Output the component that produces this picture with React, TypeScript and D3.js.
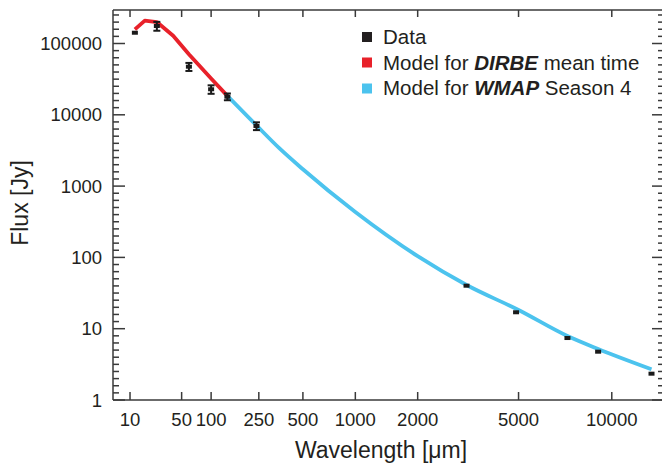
import React from "react";
import * as d3 from "d3";

const xTickValues = [10, 50, 100, 250, 500, 1000, 2000, 5000, 10000];
const yTickValues = [1, 10, 100, 1000, 10000, 100000];

const dataWavelength = [12, 25, 60, 100, 140, 240, 3200, 4900, 7300, 9100, 13000];
const dataFlux = [141600, 176000, 47300, 22800, 17950, 6970, 40.1, 17.0, 7.4, 4.76, 2.34];
const dataError = [0, 25000, 6100, 3100, 1950, 870, 0, 0, 0, 0, 0];

const dirbeWavelength = [12, 17, 25, 40, 60, 100, 140];
const dirbeFlux = [158000, 209000, 200000, 128600, 70800, 32200, 18400];

const wmapWavelength = [140, 240, 350, 500, 1000, 2000, 3200, 5000, 7300, 9100, 13000];
const wmapFlux = [18400, 7100, 3400, 1720, 433, 104, 41, 18.3, 7.9, 5.2, 2.7];

const legendLabels = ["Data", "Model for ", "Model for "];

const W = 662;
const H = 464;
const left = 113;
const right = 664;
const top = 10;
const bottom = 400;
const FONT = "'Liberation Sans', Arial, Helvetica, sans-serif";
const AXIS = "#3a3a3a";
const TEXT = "#231f20";
const RED = "#e8212a";
const BLUE = "#4cc3ee";

export default function App() {
  const x = d3.scalePow().exponent(0.25).domain([4.9, 14070]).range([left, right]);
  const y = d3
    .scaleLog()
    .domain([1, Math.pow(10, 390 / 71.3)])
    .range([bottom, top]);

  const line = d3
    .line<[number, number]>()
    .x((d) => x(d[0]))
    .y((d) => y(d[1]));
  const smoothLine = d3
    .line<[number, number]>()
    .x((d) => x(d[0]))
    .y((d) => y(d[1]))
    .curve(d3.curveMonotoneX);

  const dirbePts = dirbeWavelength.map((w, i) => [w, dirbeFlux[i]] as [number, number]);
  const wmapPts = wmapWavelength.map((w, i) => [w, wmapFlux[i]] as [number, number]);

  // minor y ticks: 10 evenly spaced subdivisions per decade
  const minorY: number[] = [];
  for (let d = 0; d < 6; d++) {
    const y0 = y(Math.pow(10, d));
    const y1 = y(Math.pow(10, d + 1));
    for (let k = 1; k < 10; k++) {
      const yy = y0 + ((y1 - y0) * k) / 10;
      if (yy >= top) minorY.push(yy);
    }
  }

  return (
    <svg
      width={W}
      height={H}
      style={{ position: "absolute", left: 0, top: 0, background: "#fff" }}
      fontFamily={FONT}
    >
      {/* frame */}
      <g stroke={AXIS} strokeWidth={1.5} fill="none">
        <line x1={left} x2={left} y1={top} y2={bottom} />
        <line x1={right} x2={right} y1={top} y2={bottom} />
        <line x1={left} x2={right} y1={top} y2={top} />
        <line x1={left} x2={right} y1={bottom} y2={bottom} />
        {xTickValues.map((t) => (
          <g key={"xt" + t}>
            <line x1={x(t)} x2={x(t)} y1={bottom} y2={bottom - 8} />
            <line x1={x(t)} x2={x(t)} y1={top} y2={top + 7} />
          </g>
        ))}
        {yTickValues.map((t) => (
          <g key={"yt" + t}>
            <line x1={left} x2={left + 12} y1={y(t)} y2={y(t)} />
            <line x1={right} x2={right - 12} y1={y(t)} y2={y(t)} />
          </g>
        ))}
        {minorY.map((yy, i) => (
          <g key={"ym" + i}>
            <line x1={left} x2={left + 6} y1={yy} y2={yy} />
            <line x1={right} x2={right - 6} y1={yy} y2={yy} />
          </g>
        ))}
      </g>

      {/* tick labels */}
      <g fontSize={18.5} fill={TEXT}>
        {xTickValues.map((t) => (
          <text key={"xl" + t} x={x(t)} y={426} textAnchor="middle">
            {t}
          </text>
        ))}
        {yTickValues.map((t) => (
          <text key={"yl" + t} x={102} y={y(t) + 6.5} textAnchor="end">
            {t}
          </text>
        ))}
      </g>

      {/* axis titles */}
      <text x={381} y={458} textAnchor="middle" fontSize={23} fill={TEXT}>
        Wavelength [μm]
      </text>
      <text
        transform="translate(28,203) rotate(-90)"
        textAnchor="middle"
        fontSize={23}
        fill={TEXT}
      >
        Flux [Jy]
      </text>

      {/* model lines */}
      <path d={line(dirbePts) || ""} fill="none" stroke={RED} strokeWidth={3.8} strokeLinejoin="round" />
      <path d={smoothLine(wmapPts) || ""} fill="none" stroke={BLUE} strokeWidth={3.8} strokeLinejoin="round" />

      {/* data */}
      <g>
        {dataWavelength.map((w, i) => {
          const cx = x(w);
          const cy = y(dataFlux[i]);
          const e = dataError[i];
          return (
            <g key={"d" + i}>
              {e > 0 && (
                <g stroke="#1a1a1a" strokeWidth={2}>
                  <line x1={cx} x2={cx} y1={y(dataFlux[i] + e)} y2={y(dataFlux[i] - e)} />
                  <line x1={cx - 3.5} x2={cx + 3.5} y1={y(dataFlux[i] + e)} y2={y(dataFlux[i] + e)} />
                  <line x1={cx - 3.5} x2={cx + 3.5} y1={y(dataFlux[i] - e)} y2={y(dataFlux[i] - e)} />
                </g>
              )}
              <rect x={cx - 3} y={cy - 2} width={6} height={4} fill="#1a1a1a" />
            </g>
          );
        })}
      </g>

      {/* legend */}
      <g fontSize={20.5} fill={TEXT}>
        <rect x={362} y={32} width={10} height={10} fill="#231f20" />
        <rect x={362} y={57.5} width={10} height={10} fill={RED} />
        <rect x={362} y={83.5} width={10} height={10} fill={BLUE} />
        <text x={383} y={44}>{legendLabels[0]}</text>
        <text x={383} y={69.5}>
          {legendLabels[1]}
          <tspan fontWeight="bold" fontStyle="italic">DIRBE</tspan>
          {" mean time"}
        </text>
        <text x={383} y={95}>
          {legendLabels[2]}
          <tspan fontWeight="bold" fontStyle="italic">WMAP</tspan>
          {" Season 4"}
        </text>
      </g>
    </svg>
  );
}
